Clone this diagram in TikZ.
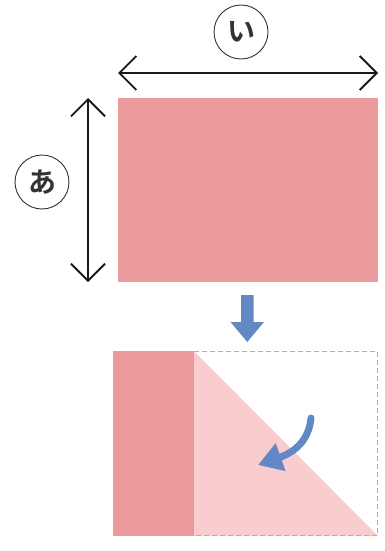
\documentclass[tikz,border=0pt]{standalone}
\usepackage{fontspec}
\newfontfamily\jpfont{Noto Sans CJK JP}[BoldFont={* Bold}]
\usetikzlibrary{arrows.meta}
\definecolor{pinkdark}{HTML}{EA9A9B}
\definecolor{pinklight}{HTML}{F9CDD0}
\definecolor{bluearr}{HTML}{6289C6}
\definecolor{dashgray}{HTML}{AEAEAE}
\definecolor{inkgray}{HTML}{333333}
\tikzset{
  dimline/.style={line width=1.8pt, draw=black!90, {Straight Barb[length=17pt,width=34pt,line width=1.8pt]}-{Straight Barb[length=17pt,width=34pt,line width=1.8pt]}},
  labelcircle/.style={circle, draw=inkgray, line width=0.9pt, minimum size=54pt, inner sep=0pt, font=\jpfont\bfseries\fontsize{28}{28}\selectfont, text=inkgray},
}
\begin{document}
\begin{tikzpicture}[x=1pt,y=-1pt]
\useasboundingbox (0,0) rectangle (385,551);
% top rectangle
\fill[pinkdark] (118,98) rectangle (378,282);
\coordinate (hl) at (118,73);
\coordinate (hr) at (378,73);
\coordinate (vt) at (88,98);
\coordinate (vb) at (88,282);
\draw[dimline] (hl) -- (hr);
\draw[dimline] (vt) -- (vb);
\node[labelcircle] (i) at (241,32) {い};
\node[labelcircle] (a) at (42,182) {あ};
% down arrow
\fill[bluearr] (241,295) -- (253.5,295) -- (253.5,322) -- (264,322) -- (247.25,342) -- (230.5,322) -- (241,322) -- cycle;
% bottom figure
\fill[pinkdark] (113,351) rectangle (194,536);
\fill[pinklight] (194,351) -- (378,536) -- (194,536) -- cycle;
\draw[dashgray, line width=1.6pt, dash pattern=on 5pt off 3pt] (194,351.5) -- (377.5,351.5) -- (377.5,535.5) -- (194,535.5);
% curved arrow
\coordinate (cs) at (311,418);
\coordinate (ce) at (258,465);
\draw[bluearr, line width=7pt, line cap=round, -{Triangle[length=24pt,width=28pt]}] (cs) .. controls (309,440) and (295,452) .. (ce);
\end{tikzpicture}
\end{document}
